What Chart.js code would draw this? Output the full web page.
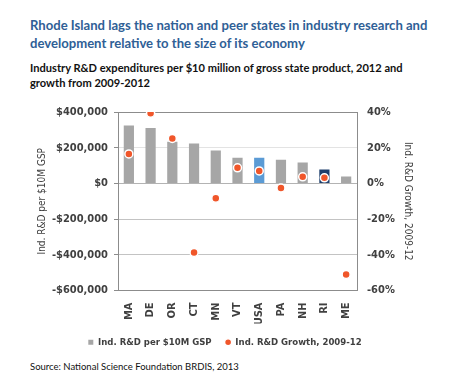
<!DOCTYPE html>
<html><head><meta charset="utf-8">
<script src="https://cdn.jsdelivr.net/npm/chart.js@4/dist/chart.umd.min.js"></script>
<style>
html,body{margin:0;padding:0;background:#fff;width:450px;height:373px;overflow:hidden;}
.t{position:absolute;left:30px;white-space:nowrap;}
#title{top:16px;font:bold 13.1px Lato,"Open Sans",sans-serif;color:#2f6096;line-height:18px;}
#sub{top:60px;font:bold 11.1px Lato,"Open Sans",sans-serif;color:#111;line-height:15px;}
#src{top:361px;font:9.5px Lato,"Open Sans",sans-serif;color:#111;}
#wrap{position:absolute;left:0;top:95px;width:450px;height:262px;}
</style></head><body>
<div id="title" class="t">Rhode Island lags the nation and peer states in industry research and<br>development relative to the size of its economy</div>
<div id="sub" class="t">Industry R&amp;D expenditures per $10 million of gross state product, 2012 and<br>growth from 2009-2012</div>
<div id="wrap"><canvas id="c" width="450" height="262"></canvas></div>
<div id="src" class="t">Source: National Science Foundation BRDIS, 2013</div>
<script>
const states = ["MA","DE","OR","CT","MN","VT","USA","PA","NH","RI","ME"];
const rdPer10M = [324000,311000,233000,224000,185000,144000,144000,133000,117000,78000,39000];
const growth = [16.5,39.3,25.2,-38.7,-8.3,8.7,7.0,-2.6,3.7,3.1,-51.0];
const leftTicks = [400000,200000,0,-200000,-400000,-600000];
const rightTicks = [40,20,0,-20,-40,-60];
const barColors = states.map(s => s==="USA" ? "#5b9bd5" : (s==="RI" ? "#1f3f6d" : "#a6a6a6"));

const tickFont = {family:"'DejaVu Sans Condensed','DejaVu Sans',sans-serif", size:11, weight:'bold'};
const axisTitleFont = {family:"'DejaVu Sans Condensed','DejaVu Sans',sans-serif", size:10};

new Chart(document.getElementById('c'), {
  type:'bar',
  data:{
    labels: states,
    datasets:[
      {label:'Ind. R&D per $10M GSP', data: rdPer10M, backgroundColor: barColors, yAxisID:'y',
       order:1, barPercentage:0.47, categoryPercentage:1, pointStyle:'rect'},
      {type:'line', label:'Ind. R&D Growth, 2009-12', data: growth, yAxisID:'y2', showLine:false,
       order:0, pointRadius:4, pointHoverRadius:4, pointBackgroundColor:'#f0562a', pointBorderColor:'#ffffff',
       pointBorderWidth:1.5, backgroundColor:'#f0562a', borderColor:'#f0562a', pointStyle:'circle'}
    ]
  },
  options:{
    responsive:false, animation:false,
    layout:{padding:{left:36,right:36,top:17,bottom:0}},
    plugins:{
      tooltip:{enabled:false},
      legend:{position:'bottom',
        labels:{usePointStyle:true, boxWidth:5, boxHeight:5, padding:14, color:'#404040',
          font:{family:"'DejaVu Sans Condensed','DejaVu Sans',sans-serif", size:9.5, weight:'bold'},
          sort:(a,b)=>a.datasetIndex-b.datasetIndex}}
    },
    scales:{
      x:{grid:{display:false}, border:{display:true,color:'#8c8c8c'},
        ticks:{minRotation:90,maxRotation:90,color:'#404040',font:tickFont,padding:4},
        afterFit:s=>{s.height=33;}},
      y:{position:'left', min:-600000, max:400000,
        afterBuildTicks:s=>{s.ticks=leftTicks.map(v=>({value:v}));},
        afterFit:s=>{s.width=82;},
        grid:{color:c=>c.tick.value===400000?'#8c8c8c':(c.tick.value===200000?'#e3e3e3':(c.tick.value===0?'#b3b3b3':'#c3c3c3')),
              tickLength:4, tickColor:'#8c8c8c'},
        border:{display:true,color:'#8c8c8c'},
        ticks:{color:'#404040',font:tickFont,padding:6,
          callback:v=> (v<0?'-$':'$')+Math.abs(v).toLocaleString('en-US')},
        title:{display:true,text:'Ind. R&D per $10M GSP',color:'#404040',font:axisTitleFont,padding:0}},
      y2:{position:'right', min:-60, max:40,
        afterBuildTicks:s=>{s.ticks=rightTicks.map(v=>({value:v}));},
        afterFit:s=>{s.width=57;},
        grid:{drawOnChartArea:false, drawTicks:false},
        border:{display:true,color:'#8c8c8c'},
        ticks:{color:'#404040',font:tickFont,padding:10, callback:v=>v+'%'},
        title:{display:true,text:'Ind. R&D Growth, 2009-12',color:'#404040',font:axisTitleFont,padding:0}}
    }
  }
});
</script>
</body></html>
